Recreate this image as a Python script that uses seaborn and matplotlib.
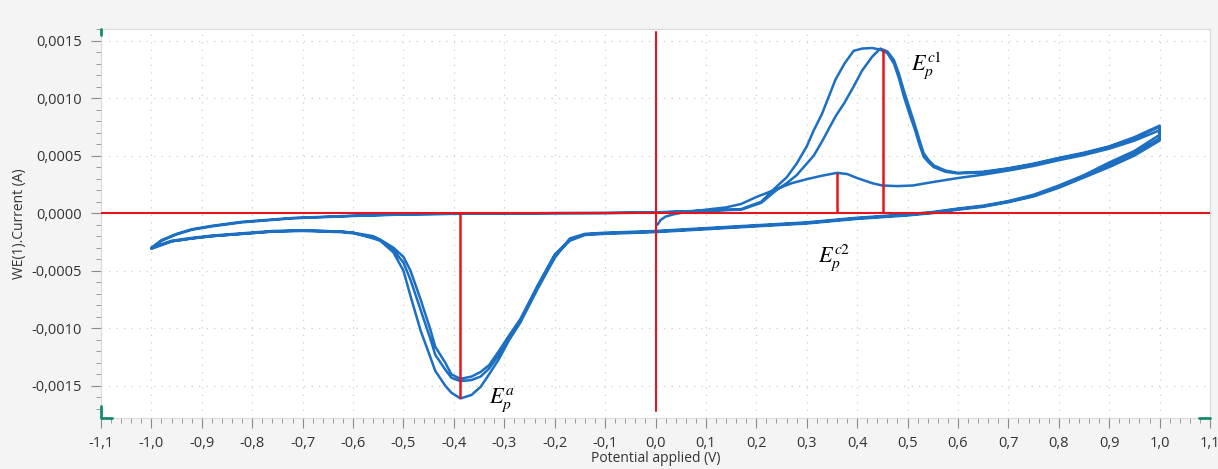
import matplotlib

matplotlib.use("Agg")
import matplotlib.pyplot as plt
import numpy as np
import pandas as pd
import seaborn as sns
from matplotlib.ticker import FuncFormatter, MultipleLocator

# potential (V) and current (x 1e-4 A)
# first forward sweep, starting at 0 V (small peak Ep^c2)
fwd1_x = [0.004, 0.01, 0.02, 0.036, 0.06, 0.1, 0.14, 0.17, 0.2, 0.235, 0.27, 0.3, 0.33, 0.36, 0.38,
          0.4, 0.43, 0.45, 0.48, 0.51, 0.55, 0.6, 0.65, 0.7, 0.75, 0.8, 0.85, 0.9, 0.95, 1.0]
fwd1_y = [-1.0, -0.6, -0.3, -0.1, 0.1, 0.3, 0.5, 0.8, 1.4, 2.0, 2.6, 2.95, 3.25, 3.5, 3.4,
          3.05, 2.6, 2.4, 2.35, 2.4, 2.7, 3.05, 3.35, 3.7, 4.1, 4.6, 5.05, 5.6, 6.3, 7.2]

# later forward sweeps (-1 V -> 1 V, big peak Ep^c1)
fwd_x = [-1.0, -0.98, -0.95, -0.92, -0.88, -0.82, -0.72, -0.6, -0.5, -0.4,
         -0.3, -0.2, -0.1, 0.0, 0.1, 0.17, 0.21, 0.24, 0.26, 0.28,
         0.3, 0.314, 0.33, 0.357, 0.375, 0.393, 0.41, 0.43, 0.446, 0.46,
         0.473, 0.483, 0.493, 0.504, 0.515, 0.524, 0.532, 0.542, 0.552, 0.575,
         0.6, 0.65, 0.7, 0.75, 0.8, 0.85, 0.9, 0.95, 1.0]
fwd2_y = [-3.1, -2.4, -1.85, -1.45, -1.15, -0.8, -0.45, -0.25, -0.12, -0.06,
          -0.03, 0.0, 0.0, 0.05, 0.2, 0.35, 1.0, 2.3, 3.1, 4.3,
          5.8, 7.2, 8.6, 11.6, 13.0, 14.1, 14.3, 14.35, 14.2, 13.9,
          13.0, 11.7, 10.1, 8.6, 7.2, 5.9, 4.9, 4.4, 4.0, 3.6,
          3.45, 3.55, 3.85, 4.25, 4.75, 5.2, 5.75, 6.5, 7.5]
fwd3_y = [-3.0, -2.35, -1.8, -1.4, -1.1, -0.75, -0.42, -0.22, -0.1, -0.05,
          -0.02, 0.0, 0.02, 0.07, 0.22, 0.3, 0.9, 2.0, 2.6, 3.3,
          4.3, 5.0, 6.2, 8.4, 9.6, 11.0, 12.4, 13.6, 14.3, 14.05,
          13.3, 12.1, 10.6, 9.1, 7.6, 6.3, 5.2, 4.6, 4.15, 3.7,
          3.5, 3.6, 3.9, 4.3, 4.8, 5.25, 5.8, 6.6, 7.6]

# reverse sweeps (1 V -> -1 V, peak Ep^a)
rev_x = [1.0, 0.95, 0.9, 0.85, 0.8, 0.75, 0.7, 0.65, 0.6, 0.55,
         0.5, 0.45, 0.4, 0.3, 0.2, 0.1, 0.0, -0.1, -0.14, -0.17,
         -0.2, -0.234, -0.268, -0.29, -0.311, -0.33, -0.347, -0.365, -0.387, -0.405,
         -0.417, -0.437, -0.446, -0.466, -0.486, -0.5, -0.52, -0.546, -0.56, -0.6,
         -0.625, -0.7, -0.76, -0.82, -0.88, -0.92, -0.96, -1.0]
rev1_y = [6.8, 5.4, 4.4, 3.3, 2.4, 1.6, 1.05, 0.65, 0.4, 0.1,
          -0.1, -0.25, -0.4, -0.8, -1.05, -1.3, -1.55, -1.7, -1.8, -2.2,
          -3.9, -6.6, -9.5, -11.0, -12.7, -14.0, -15.1, -15.8, -16.1, -15.6,
          -15.0, -13.7, -12.6, -10.2, -7.2, -5.0, -3.4, -2.4, -2.2, -1.7,
          -1.6, -1.5, -1.6, -1.8, -2.0, -2.2, -2.45, -3.1]
rev2_y = [6.5, 5.2, 4.2, 3.2, 2.3, 1.5, 1.0, 0.6, 0.35, 0.05,
          -0.15, -0.3, -0.45, -0.85, -1.1, -1.35, -1.6, -1.75, -1.85, -2.3,
          -3.6, -6.3, -9.2, -10.6, -12.0, -13.2, -13.8, -14.2, -14.4, -14.0,
          -13.0, -11.6, -10.2, -7.5, -5.0, -3.8, -3.0, -2.3, -2.0, -1.7,
          -1.6, -1.5, -1.55, -1.75, -1.95, -2.15, -2.4, -3.0]
rev3_y = [6.3, 5.0, 4.0, 3.1, 2.2, 1.45, 0.95, 0.55, 0.3, 0.0,
          -0.2, -0.35, -0.5, -0.9, -1.15, -1.4, -1.65, -1.8, -1.9, -2.4,
          -3.7, -6.4, -9.3, -10.8, -12.3, -13.5, -14.2, -14.5, -14.6, -14.3,
          -13.6, -12.3, -11.0, -8.4, -5.8, -4.3, -3.2, -2.35, -2.1, -1.75,
          -1.65, -1.55, -1.6, -1.8, -2.0, -2.2, -2.45, -3.05]

# peak markers (V, A)
peak_x = [-0.387, 0.361, 0.452]
peak_y = [-0.00161, 0.00035, 0.00143]
peak_labels = [r"$E_p^{a}$", r"$E_p^{c2}$", r"$E_p^{c1}$"]
label_x = [-0.331, 0.323, 0.506]
label_y = [-0.00163, -0.00039, 0.00128]

BLUE = "#1c6fc1"
RED = "#e8141c"

sweeps = [
    (fwd1_x, fwd1_y), (rev_x, rev1_y),
    (fwd_x, fwd2_y), (rev_x, rev2_y),
    (fwd_x, fwd3_y), (rev_x, rev3_y),
]
trace = pd.DataFrame({
    "potential": np.concatenate([np.asarray(sx) for sx, _ in sweeps]),
    "current": np.concatenate([np.asarray(sy) for _, sy in sweeps]) * 1e-4,
})

sns.set_style("white")
plt.rcParams["font.family"] = ["Open Sans", "DejaVu Sans"]
plt.rcParams["mathtext.fontset"] = "stix"

fig = plt.figure(figsize=(12.18, 4.69), dpi=100, facecolor="#f4f4f4")
ax = fig.add_axes([101 / 1218, 1 - 418 / 469, (1210 - 101) / 1218, (418 - 29) / 469])
ax.set_facecolor("white")

sns.lineplot(data=trace, x="potential", y="current", sort=False, estimator=None,
             color=BLUE, linewidth=1.8, ax=ax, zorder=3)

ax.set_xlim(-1.1, 1.1)
ax.set_ylim(-0.00178, 0.0016)

ax.axhline(0, color=RED, linewidth=1.5, zorder=4)
ax.plot([0, 0], [-0.00172, 0.00157], color=RED, linewidth=1.5, zorder=4)
ax.vlines(peak_x, 0, peak_y, color=RED, linewidth=1.8, zorder=4)
for lx, ly, txt in zip(label_x, label_y, peak_labels):
    ax.text(lx, ly, txt, fontsize=16, ha="left", va="center", color="black")

ax.xaxis.set_major_locator(MultipleLocator(0.1))
ax.xaxis.set_minor_locator(MultipleLocator(0.02))
ax.yaxis.set_major_locator(MultipleLocator(0.0005))
ax.yaxis.set_minor_locator(MultipleLocator(0.0001))


def comma_fmt(decimals):
    def fmt(v, _pos):
        v = round(v, decimals)
        if v == 0:
            v = 0.0
        return f"{v:.{decimals}f}".replace(".", ",")
    return FuncFormatter(fmt)


ax.xaxis.set_major_formatter(comma_fmt(1))
ax.yaxis.set_major_formatter(comma_fmt(4))

ax.tick_params(which="major", length=7, width=0.8, color="#8a8a8a",
               labelsize=10.5, labelcolor="#333333", pad=7)
ax.tick_params(axis="x", which="major", pad=6)
ax.tick_params(which="minor", length=3.5, width=0.7, color="#9a9a9a")
ax.tick_params(axis="y", which="both", left=True)
ax.tick_params(axis="x", which="both", bottom=True)

ax.grid(True, which="major", color="#cfcfcf", linewidth=0.9, linestyle=(0, (1, 5)))
ax.set_axisbelow(True)
for side in ax.spines.values():
    side.set_color("#dadada")
    side.set_linewidth(0.8)

ax.set_xlabel("Potential applied (V)", fontsize=10, color="#333333", labelpad=0)
ax.set_ylabel("WE(1).Current (A)", fontsize=10, color="#333333", labelpad=3)

# small teal axis handles at the corners
handle = dict(color="#138a72", linewidth=2, transform=ax.transAxes, clip_on=False, zorder=5)
ax.plot([0, 0], [1.0, 0.985], **handle)
ax.plot([0, 0, 0.01], [0.03, 0, 0], **handle)
ax.plot([0.99, 1.0], [0, 0], **handle)

fig.savefig("out.png", dpi=100, facecolor=fig.get_facecolor())
